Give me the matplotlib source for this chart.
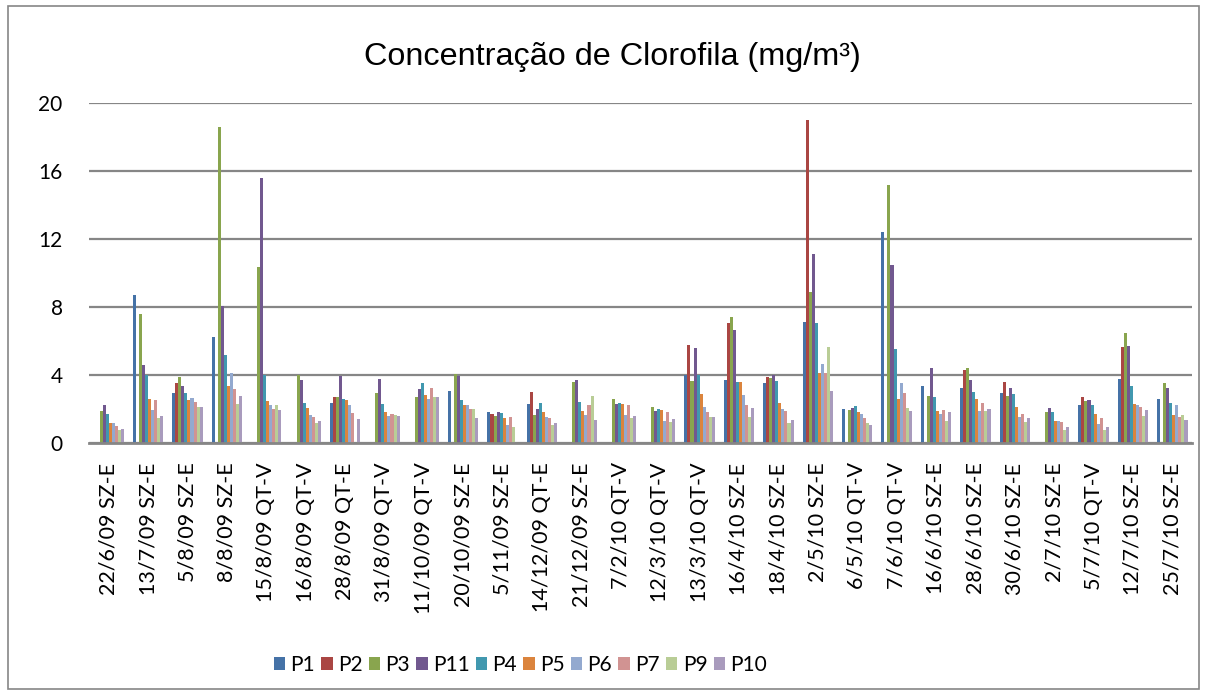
import matplotlib.pyplot as plt
import numpy as np
from matplotlib.patches import Rectangle

nan = np.nan

dates = ['22/6/09 SZ-E', '13/7/09 SZ-E', '5/8/09 SZ-E', '8/8/09 SZ-E', '15/8/09 QT-V',
         '16/8/09 QT-V', '28/8/09 QT-E', '31/8/09 QT-V', '11/10/09 QT-V', '20/10/09 SZ-E',
         '5/11/09 SZ-E', '14/12/09 QT-E', '21/12/09 SZ-E', '7/2/10 QT-V', '12/3/10 QT-V',
         '13/3/10 QT-V', '16/4/10 SZ-E', '18/4/10 SZ-E', '2/5/10 SZ-E', '6/5/10 QT-V',
         '7/6/10 QT-V', '16/6/10 SZ-E', '28/6/10 SZ-E', '30/6/10 SZ-E', '2/7/10 SZ-E',
         '5/7/10 QT-V', '12/7/10 SZ-E', '25/7/10 SZ-E']

# chlorophyll per sampling point (mg/m3); nan = not sampled
p1 = [nan, 8.73, 2.96, 6.24, nan, nan, 2.37, nan, nan, 3.08, 1.82, 2.29, nan, nan,
      nan, 4.00, 3.71, 3.53, 7.12, 2.02, 12.41, 3.35, 3.25, 2.96, nan, 2.24, 3.76, 2.61]
p2 = [nan, nan, 3.55, nan, nan, nan, 2.73, nan, nan, nan, 1.71, 3.02, nan, nan,
      nan, 5.78, 7.04, 3.90, 19.02, nan, nan, nan, 4.31, 3.61, nan, 2.69, 5.67, nan]
p3 = [1.90, 7.60, 3.90, 18.60, 10.35, 3.98, 2.69, 2.96, 2.73, 4.08, 1.61, 1.63, 3.59, 2.61,
      2.14, 3.67, 7.41, 3.84, 8.88, 1.96, 15.15, 2.76, 4.41, 2.76, 1.80, 2.45, 6.49, 3.55]
p11 = [2.25, 4.57, 3.35, 8.04, 15.59, 3.73, 3.92, 3.76, 3.20, 3.94, 1.82, 2.02, 3.73, 2.31,
       1.90, 5.57, 6.67, 3.98, 11.12, 2.08, 10.49, 4.43, 3.73, 3.24, 2.06, 2.51, 5.73, 3.25]
p4 = [1.70, 3.98, 2.96, 5.16, 3.98, 2.37, 2.61, 2.29, 3.53, 2.55, 1.75, 2.35, 2.43, 2.35,
      2.00, 4.02, 3.59, 3.63, 7.03, 2.18, 5.55, 2.71, 2.98, 2.90, 1.84, 2.24, 3.37, 2.33]
p5 = [1.16, 2.59, 2.55, 3.37, 2.47, 2.08, 2.55, 1.84, 2.84, 2.25, 1.45, 1.84, 1.88, 2.27,
      1.94, 2.90, 3.59, 2.35, 4.12, 1.84, 2.59, 1.88, 2.61, 2.14, 1.31, 1.69, 2.29, 1.65]
p6 = [1.20, 1.96, 2.67, 4.10, 2.22, 1.67, 2.25, 1.57, 2.57, 2.24, 1.08, 1.53, 1.67, 1.65,
      1.29, 2.14, 2.82, 1.98, 4.65, 1.73, 3.55, 1.71, 1.90, 1.55, 1.31, 1.14, 2.25, 2.24]
p7 = [0.98, 2.55, 2.43, 3.20, 2.02, 1.53, 1.76, 1.69, 3.25, 2.02, 1.55, 1.49, 2.25, 2.22,
      1.84, 1.84, 2.25, 1.86, 4.12, 1.47, 2.96, 1.94, 2.35, 1.71, 1.24, 1.49, 2.14, 1.51]
p9 = [0.78, 1.49, 2.12, 2.31, 2.22, 1.20, nan, 1.65, 2.70, 1.98, 0.96, 1.08, 2.76, 1.49,
      1.24, 1.55, 1.55, 1.18, 5.67, 1.18, 2.04, 1.31, 1.88, 1.25, 0.76, 0.78, 1.59, 1.65]
p10 = [0.84, 1.60, 2.12, 2.76, 1.96, 1.29, 1.43, 1.61, 2.73, 1.49, nan, 1.16, 1.33, 1.61,
       1.43, 1.55, 2.08, 1.37, 3.08, 1.08, 1.86, 1.80, 1.98, 1.47, 0.92, 0.96, 1.96, 1.37]

names = ['P1', 'P2', 'P3', 'P11', 'P4', 'P5', 'P6', 'P7', 'P9', 'P10']
series = [p1, p2, p3, p11, p4, p5, p6, p7, p9, p10]
colors = ['#4572A7', '#AA4643', '#89A54E', '#71588F', '#4198AF',
          '#DB843D', '#93A9CF', '#D19392', '#B9CD96', '#A99BBD']

fig = plt.figure(figsize=(12.07, 6.95), dpi=100)
ax = fig.add_axes([0.0737, 0.3626, 0.9139, 0.4892])

x = np.arange(len(dates))
w = 0.077
for i, (name, vals, c) in enumerate(zip(names, series, colors)):
    ax.bar(x + (i - 4.5) * w, vals, width=w, color=c, label=name, zorder=3)

ax.set_xlim(-0.5, len(dates) - 0.5)
ax.set_ylim(0, 20)
ax.set_yticks([0, 4, 8, 12, 16, 20])
ax.yaxis.grid(True, color='#868686', linewidth=1.6, zorder=0)
for s in ['top', 'right', 'left']:
    ax.spines[s].set_visible(False)
ax.spines['bottom'].set_color('#868686')
ax.spines['bottom'].set_linewidth(2)
ax.spines['bottom'].set_zorder(4)

ax.set_xticks(x)
ax.set_xticklabels(dates, rotation=90, family='Lato', fontsize=15.5)
ax.tick_params(axis='x', length=0, pad=14)
ax.tick_params(axis='y', length=0, pad=19, labelsize=15)
for t in ax.get_yticklabels():
    t.set_family('Lato')

fig.text(0.507, 0.918, 'Concentração de Clorofila (mg/m³)', ha='center', va='center',
         family='Liberation Sans', fontsize=23.3)

fig.legend(loc='center', bbox_to_anchor=(0.431, 0.043), ncol=10, frameon=False,
           handlelength=0.55, handleheight=0.55, handletextpad=0.25, columnspacing=0.3,
           prop={'family': 'Lato', 'size': 15})

fig.patches.append(Rectangle((8 / 1207, 6 / 695), 1191 / 1207, 683 / 695,
                             transform=fig.transFigure, fill=False,
                             edgecolor='#868686', linewidth=1.2))

fig.savefig('out.png', dpi=100)
